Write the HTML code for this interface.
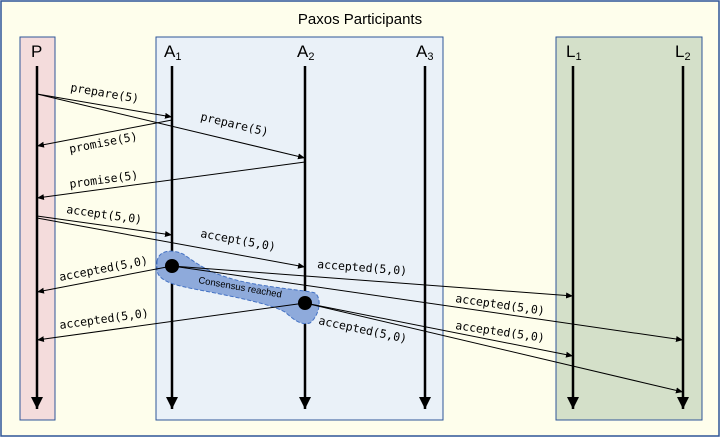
<!DOCTYPE html>
<html><head><meta charset="utf-8"><style>
html,body{margin:0;padding:0;background:#fff}
svg{display:block}
.m{font-family:"DejaVu Sans Mono","Liberation Mono",monospace;font-size:11.5px;fill:#000}
.h{font-family:"Liberation Sans",sans-serif;font-size:17px;fill:#000}
</style></head><body>
<svg width="721" height="438" viewBox="0 0 721 438" xmlns="http://www.w3.org/2000/svg">
<defs>
<marker id="a" markerWidth="8" markerHeight="8" refX="7" refY="3" orient="auto" markerUnits="userSpaceOnUse"><path d="M0,0 L7,3 L0,6z" fill="#000"/></marker>
<marker id="b" markerWidth="14" markerHeight="14" refX="6" refY="12" orient="0" markerUnits="userSpaceOnUse"><path d="M0,0 L12,0 L6,12z" fill="#000"/></marker>
</defs>
<rect x="1" y="1" width="718" height="435" fill="#fefeec" stroke="#2f5597" stroke-width="1.5"/>
<text x="360" y="24" text-anchor="middle" font-family="Liberation Sans,sans-serif" font-size="15">Paxos Participants</text>
<rect x="20" y="37" width="35" height="383" fill="#f4dcdc" stroke="#2f5597"/>
<rect x="156" y="37" width="287" height="383" fill="#eaf1f8" stroke="#2f5597"/>
<rect x="556" y="37" width="146" height="383" fill="#d4e0c9" stroke="#2f5597"/>
<text x="31" y="57" class="h">P</text>
<text x="164" y="57" class="h">A<tspan font-size="11" dy="3">1</tspan></text>
<text x="297" y="57" class="h">A<tspan font-size="11" dy="3">2</tspan></text>
<text x="416" y="57" class="h">A<tspan font-size="11" dy="3">3</tspan></text>
<text x="566" y="57" class="h">L<tspan font-size="11" dy="3">1</tspan></text>
<text x="675" y="57" class="h">L<tspan font-size="11" dy="3">2</tspan></text>
<g stroke="#000" stroke-width="2.5">
<line x1="37" y1="66" x2="37" y2="409" marker-end="url(#b)"/>
<line x1="172" y1="66" x2="172" y2="409" marker-end="url(#b)"/>
<line x1="305" y1="66" x2="305" y2="409" marker-end="url(#b)"/>
<line x1="425" y1="66" x2="425" y2="409" marker-end="url(#b)"/>
<line x1="573" y1="66" x2="573" y2="409" marker-end="url(#b)"/>
<line x1="683" y1="66" x2="683" y2="409" marker-end="url(#b)"/>
</g>
<path d="M157,262 C158,250 172,249 183,254 C198,264 208,273 240,281 C270,288 305,290 315,293 C322,298 320,315 310,323 C300,326 292,318 285,312 C270,304 240,298 210,292 C185,287 158,284 157,270 Z" fill="#8eaadb" stroke="#4472c4" stroke-dasharray="4,2"/>
<g stroke="#000" stroke-width="1" fill="none" marker-end="url(#a)">
<line x1="37" y1="94" x2="172" y2="117"/>
<line x1="37" y1="94" x2="305" y2="158"/>
<line x1="172" y1="120" x2="37" y2="146"/>
<line x1="305" y1="162" x2="37" y2="198"/>
<line x1="37" y1="216" x2="172" y2="235"/>
<line x1="37" y1="218" x2="305" y2="267"/>
<line x1="172" y1="266" x2="37" y2="292"/>
<line x1="172" y1="266" x2="573" y2="296"/>
<line x1="172" y1="266" x2="683" y2="340"/>
<line x1="305" y1="303" x2="37" y2="340"/>
<line x1="305" y1="303" x2="573" y2="356"/>
<line x1="305" y1="303" x2="683" y2="392"/>
</g>
<circle cx="172" cy="266" r="7" fill="#000"/>
<circle cx="305" cy="303" r="7" fill="#000"/>
<text x="198" y="283" font-family="Liberation Sans,sans-serif" font-size="9.5" transform="rotate(10 198 283)">Consensus reached</text>
<text class="m" x="70" y="91" transform="rotate(9.7 70 91)">prepare(5)</text>
<text class="m" x="200" y="120" transform="rotate(13.4 200 120)">prepare(5)</text>
<text class="m" x="70" y="153" transform="rotate(-10.9 70 153)">promise(5)</text>
<text class="m" x="70" y="188" transform="rotate(-7.7 70 188)">promise(5)</text>
<text class="m" x="66" y="213" transform="rotate(8 66 213)">accept(5,0)</text>
<text class="m" x="200" y="237" transform="rotate(10.4 200 237)">accept(5,0)</text>
<text class="m" x="60" y="281" transform="rotate(-10.9 60 281)">accepted(5,0)</text>
<text class="m" x="317" y="268" transform="rotate(4.3 317 268)">accepted(5,0)</text>
<text class="m" x="455" y="302" transform="rotate(8.2 455 302)">accepted(5,0)</text>
<text class="m" x="60" y="329" transform="rotate(-7.9 60 329)">accepted(5,0)</text>
<text class="m" x="455" y="329" transform="rotate(8.2 455 329)">accepted(5,0)</text>
<text class="m" x="318" y="324" transform="rotate(12 318 324)">accepted(5,0)</text>
</svg>
</body></html>
